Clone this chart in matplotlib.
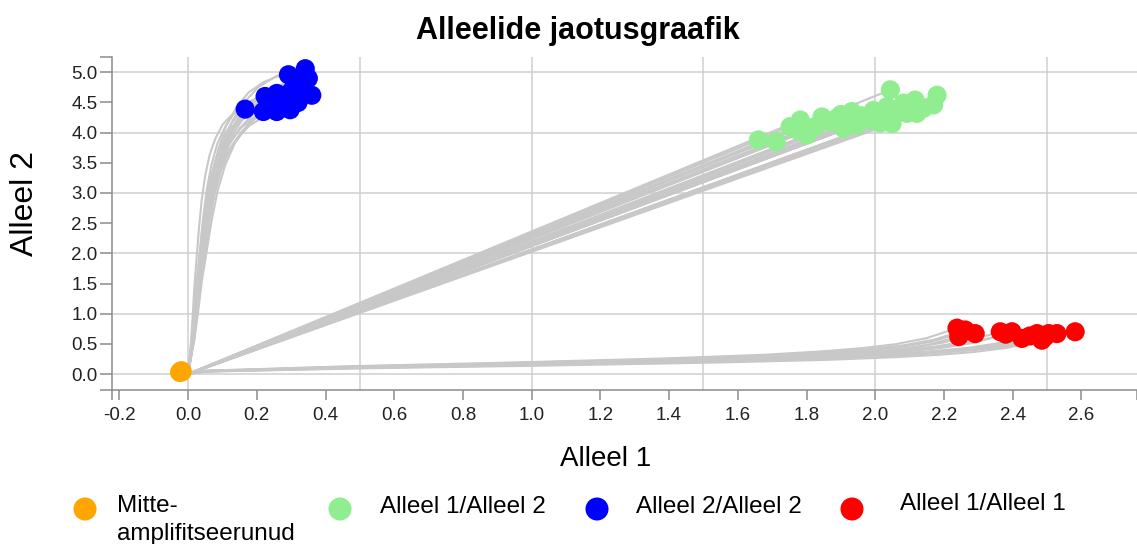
from __future__ import annotations

import matplotlib

matplotlib.use("Agg")

import matplotlib.pyplot as plt
import numpy as np
from matplotlib.ticker import FixedFormatter, FixedLocator

OUTPUT_PATH = "out.png"
FIG_W, FIG_H = 1137, 544

TITLE = "Alleelide jaotusgraafik"
X_LABEL = "Alleel 1"
Y_LABEL = "Alleel 2"

# klastrite lõpp-punktid (loetud pildilt)
NTC_X = [-0.024, -0.020, -0.018]
NTC_Y = [0.03, 0.05, 0.04]

HET_X = [1.660, 1.712, 1.752, 1.782, 1.801, 1.825, 1.845, 1.888, 1.908, 1.932, 1.947, 1.985,
         1.995, 2.015, 2.034, 2.044, 2.049, 2.082, 2.092, 2.116, 2.121, 2.170, 2.180,
         1.770, 1.870, 1.960, 2.060, 2.140, 1.900, 2.000]
HET_Y = [3.88, 3.85, 4.10, 4.21, 3.96, 4.10, 4.26, 4.24, 4.07, 4.35, 4.13, 4.21,
         4.37, 4.16, 4.43, 4.71, 4.15, 4.49, 4.32, 4.54, 4.32, 4.46, 4.62,
         4.05, 4.18, 4.28, 4.38, 4.40, 4.30, 4.25]

HOM2_X = [0.166, 0.219, 0.224, 0.245, 0.258, 0.258, 0.270, 0.282, 0.292, 0.297, 0.302, 0.315,
          0.326, 0.341, 0.350, 0.360, 0.335, 0.310, 0.235, 0.275, 0.320]
HOM2_Y = [4.39, 4.35, 4.60, 4.50, 4.35, 4.65, 4.55, 4.62, 4.96, 4.38, 4.70, 4.58,
          4.72, 5.06, 4.90, 4.62, 4.85, 4.80, 4.45, 4.42, 4.50]

HOM1_X = [2.238, 2.243, 2.262, 2.291, 2.364, 2.398, 2.427, 2.471, 2.485, 2.505, 2.529, 2.582,
          2.250, 2.380, 2.450, 2.495]
HOM1_Y = [0.76, 0.62, 0.73, 0.67, 0.70, 0.70, 0.59, 0.67, 0.56, 0.67, 0.67, 0.70,
          0.68, 0.66, 0.63, 0.62]

# trajektooride kuju (osa lõpp-punktist), loetud pildilt
HET_PATH_X = [0.0, 0.5, 1.0]
HET_PATH_Y = [0.0, 0.5, 1.0]
HOM2_PATH_X = [0.0, 0.02, 0.05, 0.08, 0.11, 0.15, 0.19, 0.24, 0.30, 0.38, 0.48, 0.60, 0.75, 0.88, 1.0]
HOM2_PATH_Y = [0.0, 0.05, 0.12, 0.22, 0.33, 0.44, 0.55, 0.66, 0.75, 0.83, 0.89, 0.94, 0.975, 0.993, 1.0]
HOM1_PATH_X = [0.0, 0.02, 0.21, 0.42, 0.62, 0.75, 0.83, 0.88, 0.92, 0.96, 1.0]
HOM1_PATH_Y = [0.0, 0.07, 0.17, 0.25, 0.34, 0.42, 0.50, 0.57, 0.65, 0.78, 1.0]

X_TICKS = [-0.2, 0.0, 0.2, 0.4, 0.6, 0.8, 1.0, 1.2, 1.4, 1.6, 1.8, 2.0, 2.2, 2.4, 2.6]
Y_TICKS = [0.0, 0.5, 1.0, 1.5, 2.0, 2.5, 3.0, 3.5, 4.0, 4.5, 5.0]

LEGEND_LABELS = ["Mitte-\namplifitseerunud", "Alleel 1/Alleel 2", "Alleel 2/Alleel 2", "Alleel 1/Alleel 1"]
LEGEND_COLORS = ["#FFA500", "#90EE90", "#0000FF", "#FF0000"]

XLIM = (-0.223, 2.762)
YLIM = (-0.27, 5.254)
LINE_GREY = "#c8c8c8"
AXIS_GREY = "#8c8c8c"

plt.rcParams["font.family"] = ["Liberation Sans", "DejaVu Sans"]


def draw_traces(ax, xs, ys, path_x, path_y) -> None:
    px = np.asarray(path_x)
    py = np.asarray(path_y)
    for x_end, y_end in zip(xs, ys):
        ax.plot(px * x_end, py * y_end, color=LINE_GREY, linewidth=1.5, zorder=2,
                solid_capstyle="round", solid_joinstyle="round")


def setup_axes(ax) -> None:
    ax.set_xlim(*XLIM)
    ax.set_ylim(*YLIM)

    # D3 stiilis välimised tikid telje otstes
    xt = [XLIM[0], *X_TICKS, XLIM[1]]
    yt = [YLIM[0], *Y_TICKS, YLIM[1]]
    ax.xaxis.set_major_locator(FixedLocator(xt))
    ax.xaxis.set_major_formatter(FixedFormatter(["", *[f"{v:.1f}" for v in X_TICKS], ""]))
    ax.yaxis.set_major_locator(FixedLocator(yt))
    ax.yaxis.set_major_formatter(FixedFormatter(["", *[f"{v:.1f}" for v in Y_TICKS], ""]))

    for v in np.arange(0.0, 2.51, 0.5):
        ax.axvline(v, color="#cfcfcf", linewidth=1.1, zorder=0)
    for v in np.arange(0.0, 5.01, 1.0):
        ax.axhline(v, color="#cfcfcf", linewidth=1.1, zorder=0)

    for side in ("top", "right"):
        ax.spines[side].set_visible(False)
    for side in ("left", "bottom"):
        ax.spines[side].set_color(AXIS_GREY)
        ax.spines[side].set_linewidth(1.1)

    ax.tick_params(axis="x", length=7, width=1.1, color=AXIS_GREY, pad=5,
                   labelsize=13.5, labelcolor="#222222")
    ax.tick_params(axis="y", length=8.6, width=1.1, color=AXIS_GREY, pad=1.5,
                   labelsize=13.5, labelcolor="#222222")


def draw_legend_and_labels(fig) -> None:
    over = fig.add_axes([0, 0, 1, 1])
    over.set_xlim(0, FIG_W)
    over.set_ylim(FIG_H, 0)
    over.axis("off")

    over.text(578, 39, TITLE, ha="center", va="baseline", fontsize=22, fontweight="bold")
    over.text(606, 466.5, X_LABEL, ha="center", va="baseline", fontsize=20)
    over.text(25, 204, Y_LABEL, ha="center", va="center", rotation=90, fontsize=23)

    marker_x = [85, 340, 597, 852]
    text_x = [117, 380, 636, 900]
    text_y = [540, 513, 513, 510]  # mitmerealisel tekstil viimase rea alusjoon
    for mx, tx, ty, label, color in zip(marker_x, text_x, text_y, LEGEND_LABELS, LEGEND_COLORS):
        over.scatter([mx], [509], s=275, color=color, edgecolors="none")
        over.text(tx, ty, label, ha="left", va="baseline", fontsize=17.5, linespacing=1.35)


def main() -> None:
    fig = plt.figure(figsize=(FIG_W / 100, FIG_H / 100), dpi=100)
    ax = fig.add_axes([111.5 / FIG_W, 1 - 390.3 / FIG_H, 1 - 111.5 / FIG_W, (390.3 - 57) / FIG_H])
    ax.set_facecolor("none")

    draw_traces(ax, HOM2_X, HOM2_Y, HOM2_PATH_X, HOM2_PATH_Y)
    draw_traces(ax, HET_X, HET_Y, HET_PATH_X, HET_PATH_Y)
    draw_traces(ax, HOM1_X, HOM1_Y, HOM1_PATH_X, HOM1_PATH_Y)

    ax.scatter(NTC_X, NTC_Y, s=200, color=LEGEND_COLORS[0], edgecolors="none", zorder=3)
    ax.scatter(HET_X, HET_Y, s=190, color=LEGEND_COLORS[1], edgecolors="none", zorder=3)
    ax.scatter(HOM2_X, HOM2_Y, s=190, color=LEGEND_COLORS[2], edgecolors="none", zorder=3)
    ax.scatter(HOM1_X, HOM1_Y, s=190, color=LEGEND_COLORS[3], edgecolors="none", zorder=3)

    setup_axes(ax)
    draw_legend_and_labels(fig)

    fig.savefig(OUTPUT_PATH, dpi=100)
    plt.close(fig)


if __name__ == "__main__":
    main()
